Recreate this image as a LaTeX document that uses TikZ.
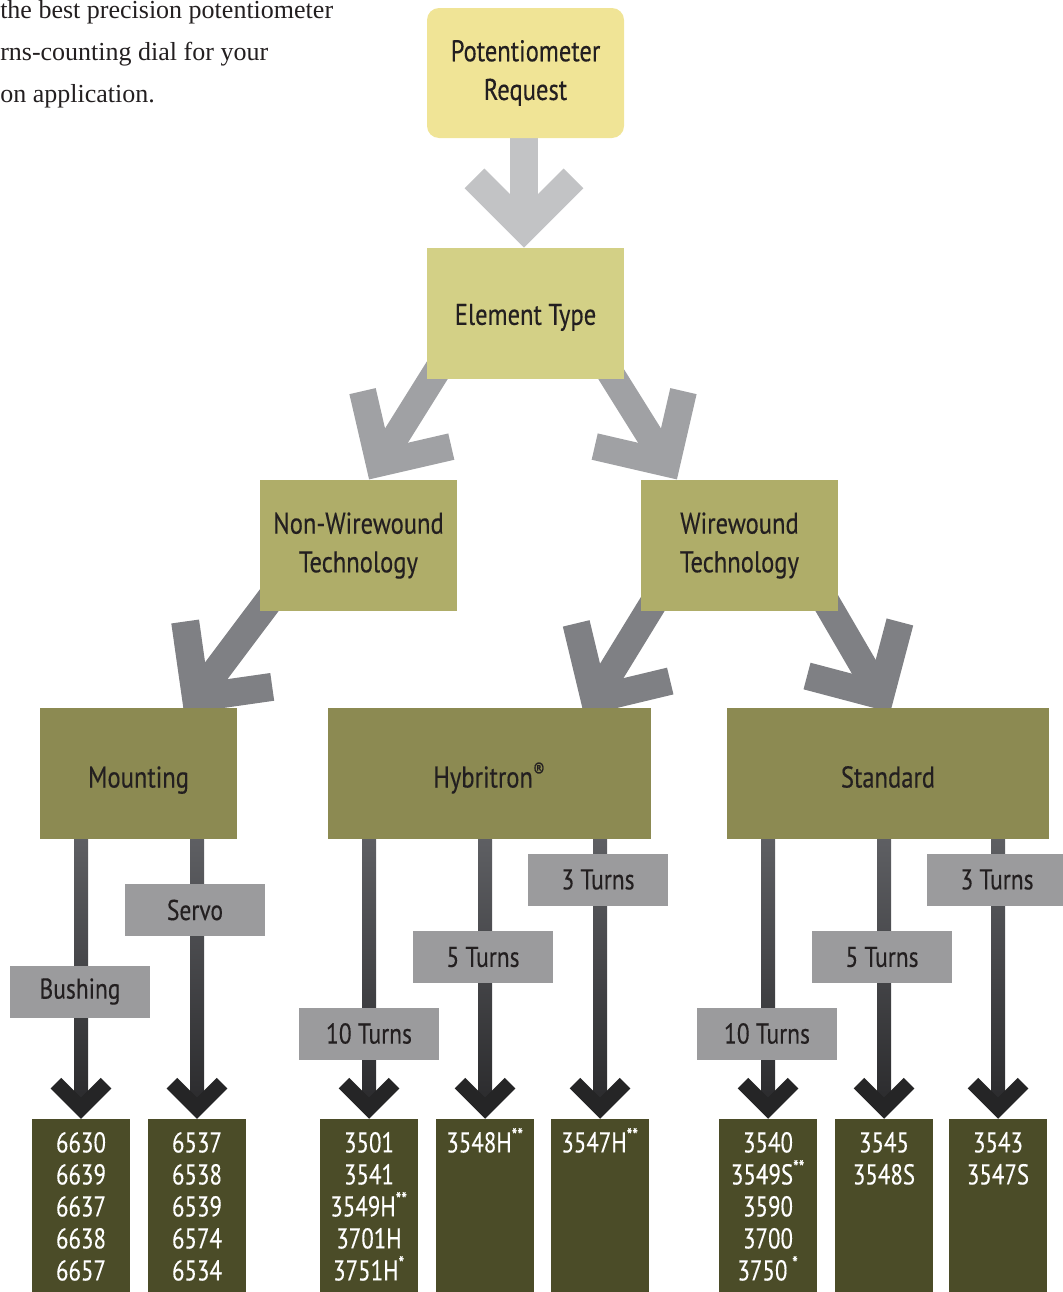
\documentclass[tikz,border=0pt]{standalone}
\usepackage{fontspec}
\setmainfont{Liberation Serif}
\newfontfamily\cond{PT Sans}[FakeStretch=0.82,FakeBold=0.3]
\newfontfamily\condn{PT Sans}[FakeStretch=0.8,FakeBold=0.2]
\usetikzlibrary{calc}
\definecolor{reqc}{HTML}{F0E496}
\definecolor{elemc}{HTML}{D3D086}
\definecolor{techc}{HTML}{AFAD69}
\definecolor{catc}{HTML}{8C8A52}
\definecolor{prodc}{HTML}{4B4C28}
\definecolor{labc}{HTML}{9B9B9D}
\definecolor{txt}{HTML}{231F20}
\definecolor{arr1}{HTML}{C2C3C5}
\definecolor{arr2}{HTML}{A0A1A4}
\definecolor{arr3}{HTML}{7F8084}
\definecolor{vtop}{HTML}{5E5F63}
\definecolor{vbot}{HTML}{2A2A2C}
\definecolor{vhd}{HTML}{252526}
\pgfdeclarelayer{bg}
\pgfsetlayers{bg,main}
% fat arrow: #1 vertex coord, #2 direction angle, #3 width, #4 arm length, #5 tail length, #6 colour
\newcommand\dconn[6]{%
  \draw[line width=#3*0.75pt, #6, line cap=butt] ($(#1)+(#2+180:#5)$) -- (#1);
  \draw[line width=#3*0.75pt, #6, line cap=butt, line join=miter] ($(#1)+(#2+135:#4)$) -- (#1) -- ($(#1)+(#2+225:#4)$);
}
% vertical dark arrow from node #1 to node #2
\newcommand\vconn[2]{%
  \shade[top color=vtop, bottom color=vbot] ($(#2.north |- #1.south)+(-7,-1)$) rectangle ($(#2.north)+(7,-10)$);
  \draw[line width=11.25pt, vhd, line cap=butt, line join=miter] ($(#2.north)+(-25,-35.6)$) -- ($(#2.north)+(0,-10.6)$) -- ($(#2.north)+(25,-35.6)$);
}
\newcommand\stars[1]{\smash{\textsuperscript{#1}}}
\begin{document}
\begin{tikzpicture}[x=0.75pt,y=-0.75pt,
  sz/.style 2 args={minimum width=#1*0.75pt, minimum height=#2*0.75pt},
  box/.style={draw=none, inner sep=0pt, align=center, text=txt,
    font=\cond\fontsize{22.5}{29}\selectfont},
  oneline/.style={text height=#1, text depth=0pt},
  lbl/.style={fill=labc, inner sep=0pt, text=txt, sz={140}{52},
    font=\cond\fontsize{21.5}{29}\selectfont},
  prod/.style={fill=prodc, inner sep=0pt, sz={98}{176}},
  numtxt/.style={inner sep=0pt, anchor=north, align=center, text=white,
    font=\condn\fontsize{21.5}{24}\selectfont},
  intro/.style={inner sep=0pt, anchor=base west, text=txt, font=\fontsize{19.5}{22}\selectfont}]
\useasboundingbox (0,0) rectangle (1063,1292);

% intro text
\node[intro] (t1) at (0,18) {the best precision potentiometer};
\node[intro] (t2) at (0,60) {rns-counting dial for your};
\node[intro] (t3) at (0,102) {on application.};

% main boxes
\node[box, fill=reqc, rounded corners=9pt, sz={197}{130}] (req) at (525.5,73) {Potentiometer\\Request};
\node[box, fill=elemc, sz={197}{131}, oneline=17pt] (elem) at (525.5,313.5) {Element Type};
\node[box, fill=techc, sz={197}{131}] (nonww) at (358.5,545.5) {Non-Wirewound\\Technology};
\node[box, fill=techc, sz={197}{131}] (ww) at (739.5,545.5) {Wirewound\\Technology};
\node[box, fill=catc, sz={197}{131}, oneline=21pt] (mount) at (138.5,773.5) {Mounting};
\node[box, fill=catc, sz={323}{131}, oneline=21pt] (hyb) at (489.5,773.5) {Hybritron\textsuperscript{®}};
\node[box, fill=catc, sz={322}{131}, oneline=21pt] (std) at (888,773.5) {Standard};

% product boxes
\node[prod] (b1) at (81,1207) {};
\node[prod] (b2) at (197,1207) {};
\node[prod] (b3) at (369,1207) {};
\node[prod] (b4) at (485,1207) {};
\node[prod] (b5) at (600,1207) {};
\node[prod] (b6) at (768,1207) {};
\node[prod] (b7) at (884,1207) {};
\node[prod] (b8) at (998,1207) {};

\node[numtxt] (n1) at ($(b1.north)+(0,13)$) {6630\\6639\\6637\\6638\\6657};
\node[numtxt] (n2) at ($(b2.north)+(0,13)$) {6537\\6538\\6539\\6574\\6534};
\node[numtxt] (n3) at ($(b3.north)+(0,13)$) {3501\\3541\\3549H\stars{**}\\3701H\\3751H\stars{*}};
\node[numtxt] (n4) at ($(b4.north)+(0,13)$) {3548H\stars{**}};
\node[numtxt] (n5) at ($(b5.north)+(0,13)$) {3547H\stars{**}};
\node[numtxt] (n6) at ($(b6.north)+(0,13)$) {3540\\3549S\stars{**}\\3590\\3700\\3750\,\stars{*}};
\node[numtxt] (n7) at ($(b7.north)+(0,13)$) {3545\\3548S};
\node[numtxt] (n8) at ($(b8.north)+(0,13)$) {3543\\3547S};

% labels on the vertical connectors
\node[lbl] (lbush) at (80,991.5) {Bushing};
\node[lbl] (lservo) at (195,910) {Servo};
\node[lbl] (lh10) at (369,1033.5) {10 Turns};
\node[lbl] (lh5) at (483,957) {5 Turns};
\node[lbl] (lh3) at (598,879.5) {3 Turns};
\node[lbl] (ls10) at (767,1033.5) {10 Turns};
\node[lbl] (ls5) at (882,957) {5 Turns};
\node[lbl] (ls3) at (997,879.5) {3 Turns};

% connectors (behind)
\begin{pgfonlayer}{bg}
  \coordinate (v1) at ($(elem.north)+(-1.5,-19.8)$);
  \dconn{v1}{90}{28}{70}{98}{arr1}
  \coordinate (v2) at ($(nonww.north)+(20.7,-16.5)$);
  \dconn{v2}{122}{27}{74}{125}{arr2}
  \coordinate (v3) at ($(ww.north)+(-72.7,-16.5)$);
  \dconn{v3}{58}{27}{74}{125}{arr2}
  \coordinate (v4) at ($(mount.north)+(57.5,-10)$);
  \dconn{v4}{126.9}{28}{77}{150}{arr3}
  \coordinate (v5) at ($(hyb.north)+(104.9,-8.5)$);
  \dconn{v5}{121.5}{27.5}{78}{150}{arr3}
  \coordinate (v6) at ($(std.north)+(-7.5,-12.3)$);
  \dconn{v6}{59.8}{27.5}{76}{150}{arr3}
  \vconn{mount}{b1}
  \vconn{mount}{b2}
  \vconn{hyb}{b3}
  \vconn{hyb}{b4}
  \vconn{hyb}{b5}
  \vconn{std}{b6}
  \vconn{std}{b7}
  \vconn{std}{b8}
\end{pgfonlayer}
\end{tikzpicture}
\end{document}
